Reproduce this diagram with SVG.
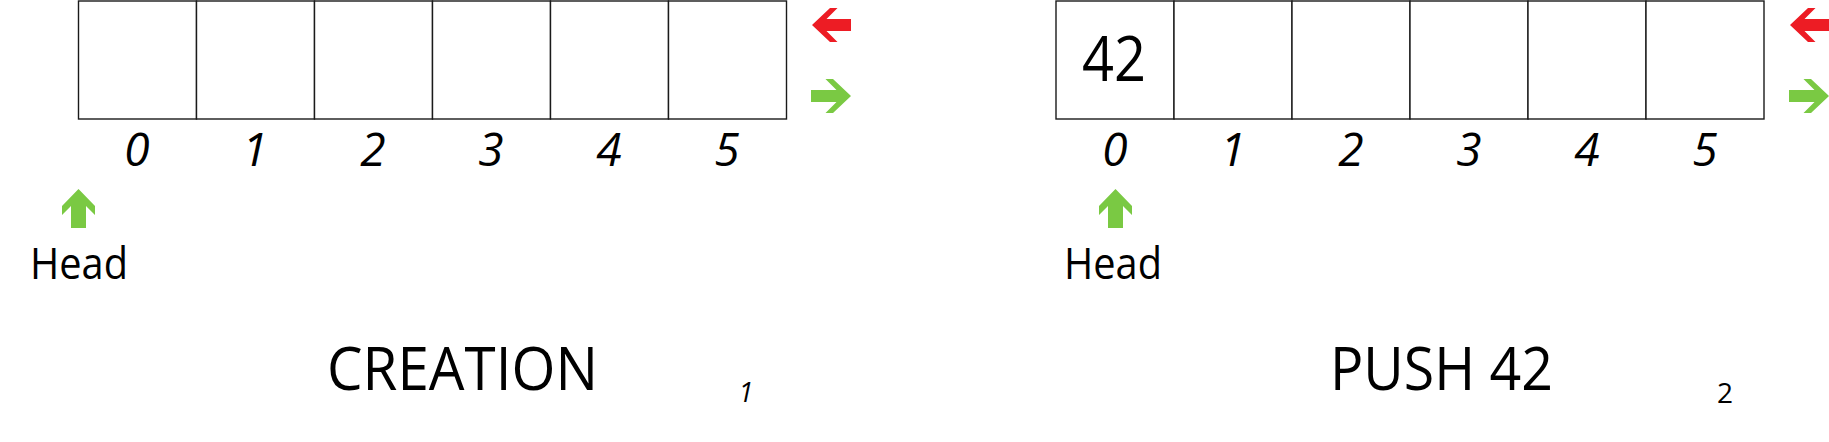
<svg xmlns="http://www.w3.org/2000/svg" width="1829" height="442" viewBox="0 0 1829 442">
<defs>
<style>
.cell{fill:#fff;stroke:#1a1a1a;stroke-width:1.4}
.idx{font-family:"Open Sans","Liberation Sans",sans-serif;font-style:italic;font-size:46px;fill:#000;text-anchor:middle}
.lbl{font-family:"Open Sans","Liberation Sans",sans-serif;font-size:43px;fill:#000}
.title{font-family:"Open Sans","Liberation Sans",sans-serif;font-size:60px;fill:#000}
.red{fill:#ed1c24}
.green{fill:#7ac943}
</style>
<polygon id="arrL" points="0,17 18,0 25.5,0 14.5,11 39,11 39,23 14.5,23 25.5,34 18,34"/>
<polygon id="arrR" points="40,17 22,0 14.5,0 25.5,11 0,11 0,23 25.5,23 14.5,34 22,34"/>
<polygon id="arrU" points="16.5,0 33,17 33,26 24,17 24,39 9,39 9,17 0,26 0,17"/>
</defs>
<rect width="1829" height="442" fill="#fff"/>

<g id="panel1">
  <g id="p1-cell0"><rect class="cell" x="78.5" y="1" width="118" height="118"/></g>
  <g id="p1-cell1"><rect class="cell" x="196.5" y="1" width="118" height="118"/></g>
  <g id="p1-cell2"><rect class="cell" x="314.5" y="1" width="118" height="118"/></g>
  <g id="p1-cell3"><rect class="cell" x="432.5" y="1" width="118" height="118"/></g>
  <g id="p1-cell4"><rect class="cell" x="550.5" y="1" width="118" height="118"/></g>
  <g id="p1-cell5"><rect class="cell" x="668.5" y="1" width="118" height="118"/></g>
  <g id="p1-indices">
    <text class="idx" x="137" y="166">0</text>
    <text class="idx" x="255" y="166">1</text>
    <text class="idx" x="373" y="166">2</text>
    <text class="idx" x="491" y="166">3</text>
    <text class="idx" x="609" y="166">4</text>
    <text class="idx" x="727" y="166">5</text>
  </g>
  <g id="p1-head">
    <use href="#arrU" class="green" x="62" y="189"/>
    <text class="lbl" x="30" y="279" textLength="98" lengthAdjust="spacingAndGlyphs">Head</text>
  </g>
  <g id="p1-arrows">
    <use href="#arrL" class="red" x="812" y="8"/>
    <use href="#arrR" class="green" x="811" y="79"/>
  </g>
  <g id="p1-title">
    <text class="title" x="327" y="390" textLength="271" lengthAdjust="spacingAndGlyphs">CREATION</text>
    <text x="746" y="402" font-family="Open Sans, Liberation Sans, sans-serif" font-style="italic" font-size="27" text-anchor="middle">1</text>
  </g>
</g>

<g id="panel2">
  <g id="p2-cell0"><rect class="cell" x="1056" y="1" width="118" height="118"/>
    <text x="1114" y="81" font-family="Open Sans, Liberation Sans, sans-serif" font-size="62" text-anchor="middle" textLength="64" lengthAdjust="spacingAndGlyphs">42</text></g>
  <g id="p2-cell1"><rect class="cell" x="1174" y="1" width="118" height="118"/></g>
  <g id="p2-cell2"><rect class="cell" x="1292" y="1" width="118" height="118"/></g>
  <g id="p2-cell3"><rect class="cell" x="1410" y="1" width="118" height="118"/></g>
  <g id="p2-cell4"><rect class="cell" x="1528" y="1" width="118" height="118"/></g>
  <g id="p2-cell5"><rect class="cell" x="1646" y="1" width="118" height="118"/></g>
  <g id="p2-indices">
    <text class="idx" x="1115" y="166">0</text>
    <text class="idx" x="1233" y="166">1</text>
    <text class="idx" x="1351" y="166">2</text>
    <text class="idx" x="1469" y="166">3</text>
    <text class="idx" x="1587" y="166">4</text>
    <text class="idx" x="1705" y="166">5</text>
  </g>
  <g id="p2-head">
    <use href="#arrU" class="green" x="1099" y="189"/>
    <text class="lbl" x="1064" y="279" textLength="98" lengthAdjust="spacingAndGlyphs">Head</text>
  </g>
  <g id="p2-arrows">
    <use href="#arrL" class="red" x="1790" y="8"/>
    <use href="#arrR" class="green" x="1789" y="79"/>
  </g>
  <g id="p2-title">
    <text class="title" x="1330" y="390" textLength="223" lengthAdjust="spacingAndGlyphs">PUSH 42</text>
    <text x="1725" y="403" font-family="Open Sans, Liberation Sans, sans-serif" font-size="28" text-anchor="middle">2</text>
  </g>
</g>
<g id="connectors"/>
</svg>
